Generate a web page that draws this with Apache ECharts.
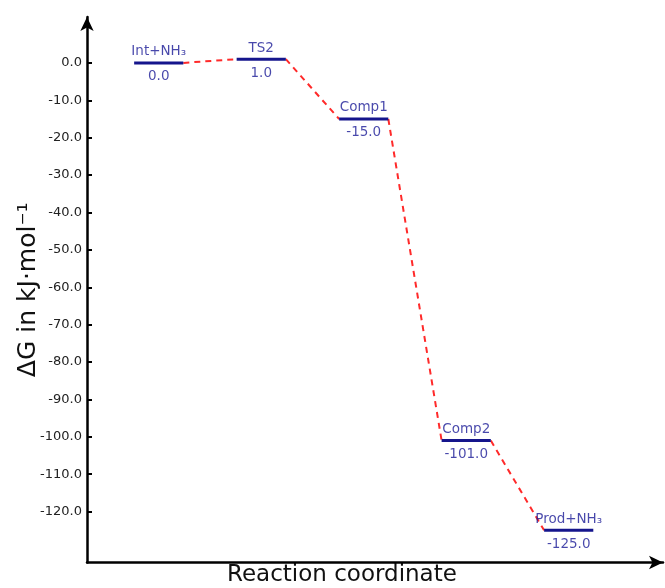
<!DOCTYPE html>
<html><head><meta charset="utf-8">
<script src="https://cdn.jsdelivr.net/npm/echarts@6/dist/echarts.min.js"></script>
<style>html,body{margin:0;padding:0;background:#fff}#c{width:665px;height:588px}</style>
</head><body><div id="c"></div>
<script>
const states = ['Int+NH₃', 'TS2', 'Comp1', 'Comp2', 'Prod+NH₃'];
const energies = [0.0, 1.0, -15.0, -101.0, -125.0];
const yTickValues = [0, -10, -20, -30, -40, -50, -60, -70, -80, -90, -100, -110, -120];
const yTitle = 'ΔG in kJ·mol⁻¹';
const xTitle = 'Reaction coordinate';

const HALF = 0.24;
const pos = states.map((s, i) => i + 1);
const FONT = 'DejaVu Sans';
const levelColor = '#15158c';
const textBlue = '#1a1a96';

const series = [];
states.forEach((s, i) => {
  series.push({
    type: 'line', symbol: 'none', silent: true, z: 3,
    data: [[pos[i] - HALF, energies[i]], [pos[i] + HALF, energies[i]]],
    lineStyle: { color: levelColor, width: 3 }
  });
  if (i < states.length - 1) {
    series.push({
      type: 'line', symbol: 'none', silent: true, z: 2,
      data: [[pos[i] + HALF, energies[i]], [pos[i + 1] - HALF, energies[i + 1]]],
      lineStyle: { color: '#ff2a2a', width: 2, type: [6, 5] }
    });
  }
});
series.push({
  type: 'scatter', symbolSize: 0, silent: true,
  data: states.map((s, i) => [pos[i], energies[i], s]),
  label: { show: true, position: 'top', distance: 4, formatter: p => p.data[2],
    color: textBlue, fontSize: 13.5, fontFamily: FONT }
});
series.push({
  type: 'scatter', symbolSize: 0, silent: true,
  data: states.map((s, i) => [pos[i], energies[i]]),
  label: { show: true, position: 'bottom', distance: 7, formatter: p => p.data[1].toFixed(1),
    color: textBlue, fontSize: 13.5, fontFamily: FONT }
});

const chart = echarts.init(document.getElementById('c'), null, { renderer: 'canvas' });
chart.setOption({
  animation: false,
  backgroundColor: '#fff',
  grid: { left: 87, right: 2, top: 17, bottom: 25.5, outerBoundsMode: 'none', containLabel: false },
  xAxis: {
    type: 'value', min: 0.3, max: 5.92,
    axisLine: { show: true, onZero: false, symbol: ['none', 'arrow'], symbolSize: [10, 14],
      lineStyle: { color: '#000', width: 2.5 } },
    axisTick: { show: false }, axisLabel: { show: false }, splitLine: { show: false }
  },
  yAxis: {
    type: 'value', min: -133.6, max: 12.27,
    name: yTitle, nameLocation: 'middle', nameGap: 46, nameMoveOverlap: false,
    nameTextStyle: { fontSize: 25, fontFamily: FONT, color: '#111' },
    axisLine: { show: true, onZero: false, symbol: ['none', 'arrow'], symbolSize: [10, 14],
      lineStyle: { color: '#000', width: 2.5 } },
    axisTick: { show: true, inside: true, length: 5, customValues: yTickValues,
      lineStyle: { color: '#000', width: 2 } },
    axisLabel: { customValues: yTickValues, formatter: v => Number(v).toFixed(1),
      margin: 5, fontSize: 13, fontFamily: FONT, color: '#222' },
    splitLine: { show: false }
  },
  graphic: [{
    type: 'text', left: 227, top: 564,
    style: { text: xTitle, fontSize: 23, fontFamily: FONT, fill: '#111' }
  }],
  series: series
});
</script>
</body></html>
